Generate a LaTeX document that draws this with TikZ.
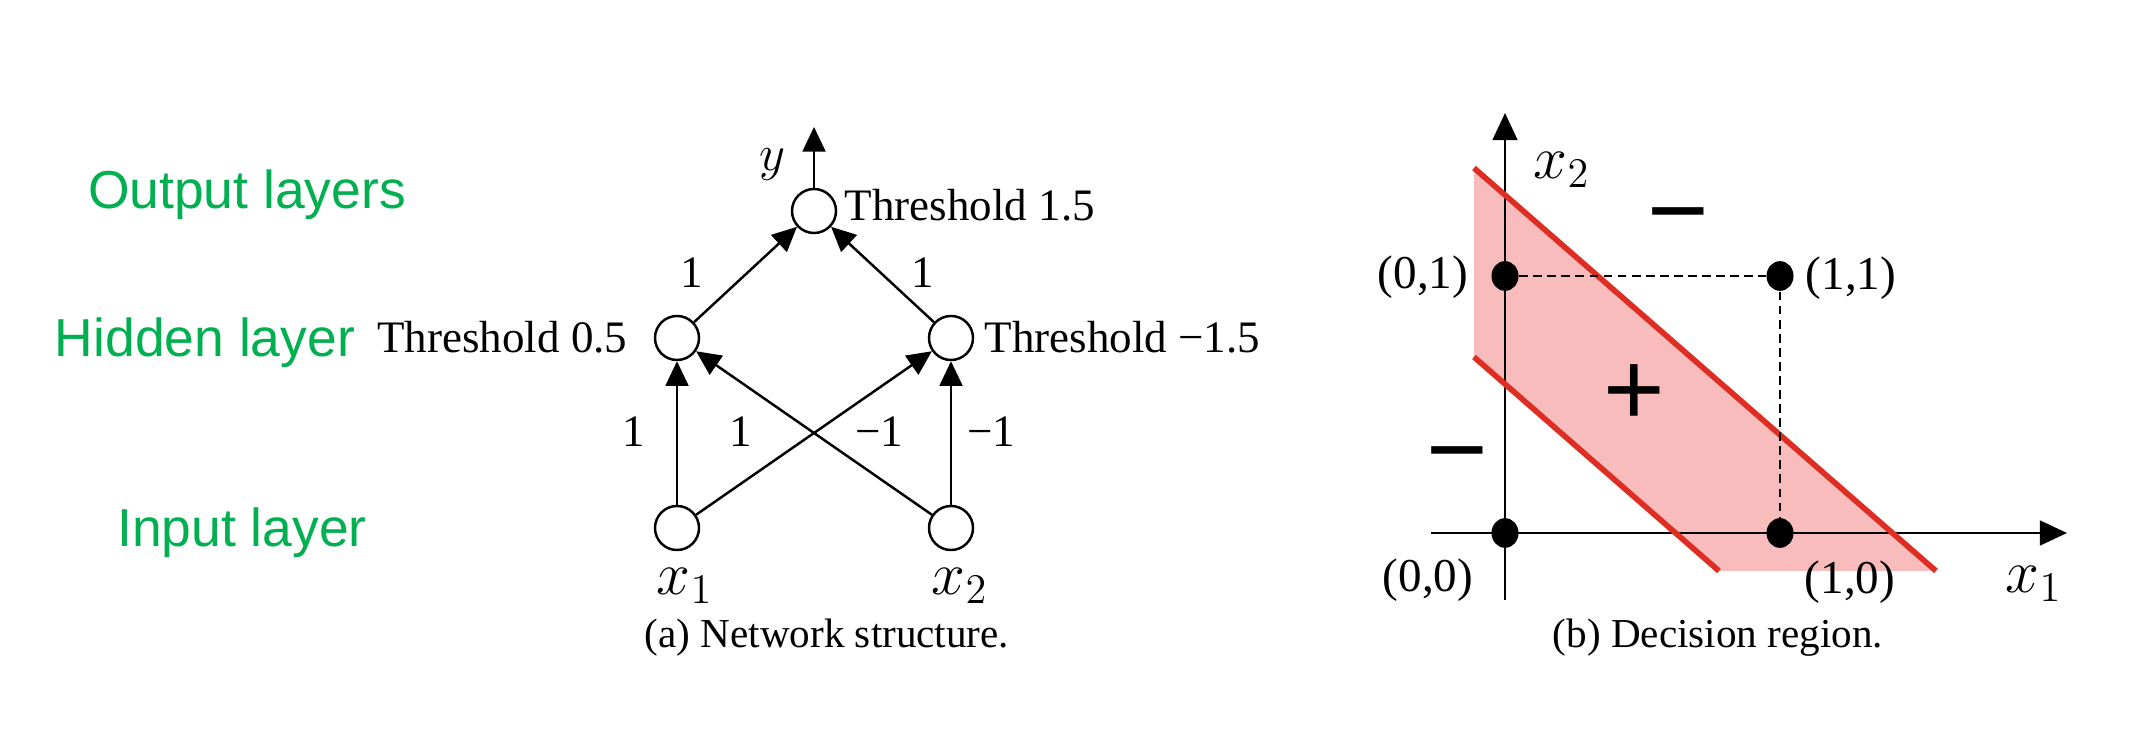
\documentclass[tikz,border=0pt]{standalone}
\usepackage{fontspec}
\setmainfont{Liberation Serif}
\newfontfamily\sansf{Liberation Sans}
\usetikzlibrary{arrows.meta}
\definecolor{lgreen}{RGB}{0,176,80}
\definecolor{lred}{RGB}{222,45,35}
\definecolor{lpink}{RGB}{249,188,188}
\begin{document}
\begin{tikzpicture}[x=0.01cm,y=-0.01cm,
  layerlbl/.style={text=lgreen,font=\sansf\fontsize{15.2}{18}\selectfont,anchor=base,inner sep=0pt},
  neuron/.style={circle,draw,line width=0.7pt,minimum size=0.44cm,inner sep=0pt},
  thr/.style={font=\fontsize{12.8}{15}\selectfont,inner sep=0pt},
  wlbl/.style={font=\fontsize{12.8}{15}\selectfont,inner sep=0pt},
  mlbl/.style={font=\fontsize{16.5}{19}\selectfont,inner sep=0pt},
  ylab/.style={font=\fontsize{15.5}{18}\selectfont,inner sep=0pt},
  captxt/.style={font=\fontsize{11.7}{14}\selectfont,inner sep=0pt},
  conn/.style={line width=0.7pt,-{Triangle[length=7pt,width=6.5pt]}},
  axis/.style={line width=0.8pt,-{Triangle[length=7.7pt,width=7pt]}},
  redline/.style={lred,line width=1.6pt},
  dashln/.style={line width=0.5pt,dash pattern=on 2.5pt off 1.5pt},
  dot/.style={circle,fill=black,minimum size=0.27cm,inner sep=0pt,yscale=1.1},
  coordlbl/.style={font=\fontsize{13.4}{16}\selectfont,inner sep=0pt},
  axlbl/.style={font=\fontsize{18.5}{21}\selectfont,inner sep=0pt},
  sign/.style={font=\sansf\fontsize{30}{32}\selectfont,inner sep=0pt}
]
\useasboundingbox (0,0) rectangle (2142,743);

% layer labels
\node[layerlbl] (lo) at (247,209) {Output layers};
\node[layerlbl] (lh) at (205,357) {Hidden layer};
\node[layerlbl] (li) at (242,547) {Input layer};

% network
\node[neuron] (o) at (814,211) {};
\node[neuron] (h1) at (677,338) {};
\node[neuron] (h2) at (951,338) {};
\node[neuron] (i1) at (677,528) {};
\node[neuron] (i2) at (951,528) {};
\coordinate (ytip) at (814,127);
\draw[conn] (o) -- (ytip);
\node[ylab] (ylbl) at (772,165) {$y$};
\draw[conn] (h1) -- (o);
\draw[conn] (h2) -- (o);
\draw[conn] (i1) -- (h1);
\draw[conn] (i1) -- (h2);
\draw[conn] (i2) -- (h1);
\draw[conn] (i2) -- (h2);
\node[thr,anchor=base west] (to) at (844,221) {Threshold 1.5};
\node[thr,anchor=base east] (th1) at (628,353) {Threshold 0.5};
\node[thr,anchor=base west] (th2) at (984,353) {Threshold −1.5};
\node[wlbl] (w1) at (692,273) {1};
\node[wlbl] (w2) at (923,273) {1};
\node[wlbl] (w3) at (634,432) {1};
\node[wlbl] (w4) at (741,432) {1};
\node[wlbl] (w5) at (879,432) {−1};
\node[wlbl] (w6) at (991,432) {−1};
\node[mlbl,anchor=base] (x1l) at (685,594) {$x_1$};
\node[mlbl,anchor=base] (x2l) at (960,594) {$x_2$};
\node[captxt] (capa) at (827,638) {(a) Network structure.};

% decision region
\fill[lpink] (1474,168) -- (1936,571) -- (1719,571) -- (1474,357) -- cycle;
\coordinate (ybot) at (1505,600);
\coordinate (ytop) at (1505,113);
\coordinate (xl) at (1431,533);
\coordinate (xr) at (2067,533);
\draw[axis] (ybot) -- (ytop);
\draw[axis] (xl) -- (xr);
\coordinate (ua) at (1474,168);
\coordinate (ub) at (1936,571);
\coordinate (la) at (1474,357);
\coordinate (lb) at (1719,571);
\draw[redline] (ua) -- (ub);
\draw[redline] (la) -- (lb);
\node[dot] (p00) at (1505,533) {};
\node[dot] (p01) at (1505,276) {};
\node[dot] (p11) at (1780,276) {};
\node[dot] (p10) at (1780,533) {};
\draw[dashln] (p01) -- (p11) -- (p10);
\node[coordlbl] (l01) at (1423,277) {(0,1)};
\node[coordlbl] (l11) at (1851,278) {(1,1)};
\node[coordlbl] (l00) at (1428,580) {(0,0)};
\node[coordlbl] (l10) at (1850,582) {(1,0)};
\node[axlbl] (x2a) at (1562,170) {$x_2$};
\node[axlbl] (x1a) at (2034,584) {$x_1$};
\node[sign] (m1) at (1678,227) {−};
\node[sign] (m2) at (1457,466) {−};
\node[sign] (pl) at (1634,395) {+};
\node[captxt] (capb) at (1718,638) {(b) Decision region.};
\end{tikzpicture}
\end{document}
